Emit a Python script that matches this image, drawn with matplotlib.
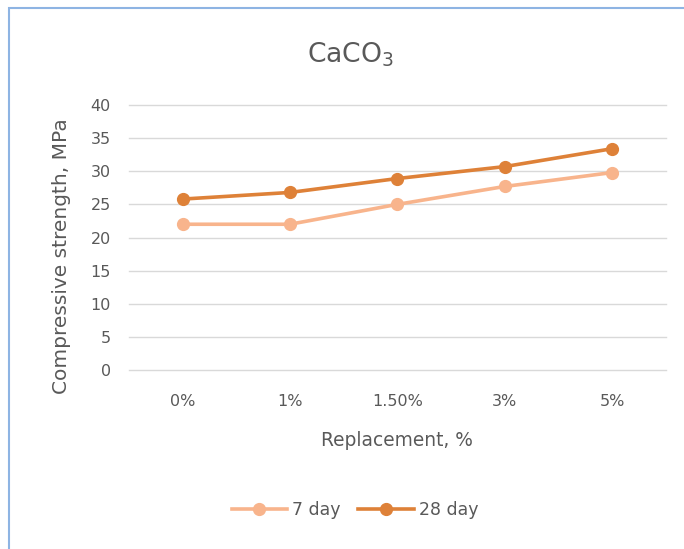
import matplotlib
matplotlib.use("Agg")
import matplotlib.pyplot as plt
from matplotlib.patches import Rectangle

categories = ["0%", "1%", "1.50%", "3%", "5%"]
day7 = [22.0, 22.0, 25.0, 27.7, 29.8]
day28 = [25.8, 26.8, 28.9, 30.7, 33.4]
yticks = [0, 5, 10, 15, 20, 25, 30, 35, 40]

plt.rcParams['font.family'] = ['DejaVu Sans']
txt = '#595959'

W, H = 684, 549
fig = plt.figure(figsize=(W/100, H/100), dpi=100)
fig.patch.set_facecolor('white')

# chart border
fig.add_artist(Rectangle((9/W, -0.05), 1.2, 1 - 8/H + 0.05, transform=fig.transFigure,
                         fill=False, edgecolor='#8EB4E3', linewidth=1.5))

ax = fig.add_axes([129/W, 1 - 370/H, (665.6 - 129)/W, (370 - 105)/H])
x = list(range(len(categories)))
ax.plot(x, day7, color='#F8B48C', lw=2.6, marker='o', ms=8.5, label='7 day', zorder=3)
ax.plot(x, day28, color='#DE8138', lw=2.6, marker='o', ms=8.5, label='28 day', zorder=4)

ax.set_xlim(-0.5, len(categories) - 0.5)
ax.set_ylim(0, 40)
ax.set_yticks(yticks)
ax.set_xticks(x)
ax.set_xticklabels(categories)
ax.grid(axis='y', color='#D9D9D9', lw=1)
for gl in ax.get_ygridlines():
    gl.set_clip_on(False)
ax.set_axisbelow(True)
for s in ax.spines.values():
    s.set_visible(False)
ax.tick_params(axis='both', length=0, labelsize=11.5, colors=txt)
ax.tick_params(axis='y', pad=13)
ax.tick_params(axis='x', pad=17)

t_title = fig.text(351/W, 1 - 55/H, 'CaCO$_3$', ha='center', va='center', fontsize=17, color=txt)
t_x = fig.text(397/W, 1 - 440/H, 'Replacement, %', ha='center', va='center', fontsize=12, color=txt)
t_y = fig.text(62/W, 1 - 256/H, 'Compressive strength, MPa', ha='center', va='center',
               rotation=90, fontsize=12, color=txt)

leg = fig.legend(loc='center', bbox_to_anchor=(355/W, 1 - 510/H), ncol=2, frameon=False,
                 fontsize=12.5, handlelength=3.2, handletextpad=0.3, columnspacing=1.0)
for t in leg.get_texts():
    t.set_color(txt)

# scale text sizes toward the reference extents (pixels)
fig.canvas.draw()
r = fig.canvas.get_renderer()
def fit(t, target, vertical=False, k=0.88):
    bb = t.get_window_extent(r)
    cur = bb.height if vertical else bb.width
    t.set_fontsize(t.get_fontsize() * target / cur * k)
fit(t_title, 97, k=0.9)
fit(t_x, 172)
fit(t_y, 312, vertical=True)

fig.savefig('out.png', dpi=100, facecolor='white')
